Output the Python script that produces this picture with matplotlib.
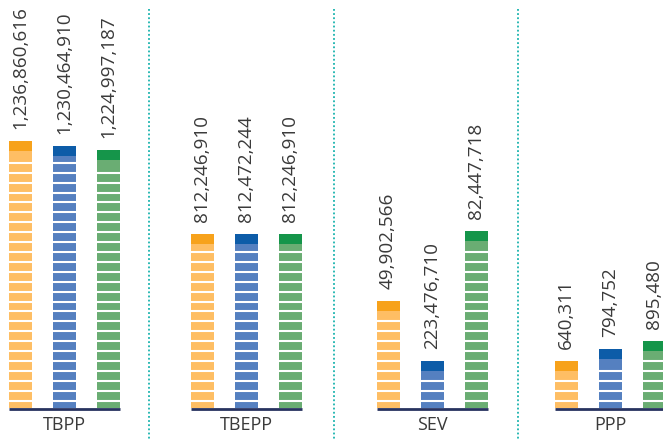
import matplotlib
matplotlib.use('Agg')
import matplotlib.pyplot as plt

# chart data
categories = ['TBPP', 'TBEPP', 'SEV', 'PPP']
series_a = [1236860616, 812246910, 49902566, 640311]
series_b = [1230464910, 812472244, 223476710, 794752]
series_c = [1224997187, 812246910, 82447718, 895480]
# bar heights as drawn (each group uses its own scale)
height_a = [267, 174, 107, 47]
height_b = [262, 174, 47, 59]
height_c = [258, 174, 177, 67]

light = ['#FEBE64', '#5580C0', '#6AAD73']
dark = ['#F7A21B', '#0D5CA8', '#15954A']

plt.rcParams['font.family'] = ['Open Sans', 'DejaVu Sans']

fig = plt.figure(figsize=(6.63, 4.4), dpi=100)
ax = fig.add_axes([0, 0, 1, 1])
ax.set_xlim(0, 663)
ax.set_ylim(-32, 408)
ax.axis('off')

group_x = [64, 246, 432, 610]
offsets = [-44, 0, 44]
bar_w = 23
cap = 10
pitch = 9.9

values = [series_a, series_b, series_c]
heights = [height_a, height_b, height_c]

for g, gx in enumerate(group_x):
    for s in range(3):
        x = gx + offsets[s]
        h = heights[s][g]
        ax.bar(x, h, width=bar_w, color=light[s], linewidth=0, zorder=2)
        ax.bar(x, cap, bottom=h - cap, width=bar_w, color=dark[s], linewidth=0, zorder=3)
        # white stripes across the body of the bar
        y = 7.5
        while y < h - cap - 6:
            ax.hlines(y, x - bar_w / 2, x + bar_w / 2, color='white', lw=1.5, zorder=4)
            y += pitch
        ax.text(x, h + 12, f'{values[s][g]:,}', rotation=90, ha='center', va='bottom',
                fontsize=13.6, color='#3a3a3a')
    # baseline under each group
    ax.plot([gx - 44 - bar_w / 2, gx + 44 + bar_w / 2], [-1, -1], color='#27325F', lw=2, zorder=5,
            solid_capstyle='butt')
    ax.text(gx, -17, categories[g], ha='center', va='center', fontsize=13, color='#3a3a3a')

# dotted separators between groups
for sx in [149, 334, 518]:
    ax.plot([sx, sx], [399, -32], color='#19B3AE', lw=1.3, linestyle=(0, (1, 1.3)))

fig.savefig('out.png', dpi=100)
